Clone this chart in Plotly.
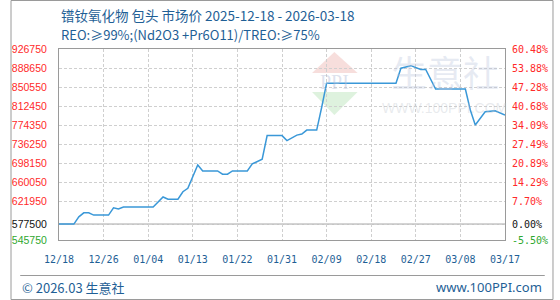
import plotly.graph_objects as go
import pandas as pd

# ---- data ----
dates = [
    "2025-12-18", "2025-12-21", "2025-12-22", "2025-12-23", "2025-12-24", "2025-12-25",
    "2025-12-28", "2025-12-29", "2025-12-30", "2025-12-31", "2026-01-06", "2026-01-08",
    "2026-01-09", "2026-01-11", "2026-01-12", "2026-01-13", "2026-01-15", "2026-01-16",
    "2026-01-19", "2026-01-20", "2026-01-21", "2026-01-22", "2026-01-25", "2026-01-26",
    "2026-01-28", "2026-01-29", "2026-02-01", "2026-02-02", "2026-02-04", "2026-02-05",
    "2026-02-06", "2026-02-08", "2026-02-09", "2026-02-10", "2026-02-24", "2026-02-25",
    "2026-02-27", "2026-03-01", "2026-03-02", "2026-03-03", "2026-03-04", "2026-03-10",
    "2026-03-11", "2026-03-12", "2026-03-14", "2026-03-16", "2026-03-18",
]
prices = [
    577500, 577500, 592000, 600000, 600000, 595500,
    595500, 610000, 607500, 611500, 611500, 631500,
    627000, 627000, 642000, 649000, 695500, 683500,
    683500, 677000, 677000, 683500, 683500, 697500,
    707000, 754000, 754000, 744000, 755000, 757000,
    765000, 765000, 810000, 858500, 858500, 888500,
    893500, 886000, 886000, 865000, 847000, 847000,
    805000, 775000, 801500, 803500, 795000,
]
x_labels = ["12/18", "12/26", "01/04", "01/13", "01/22", "01/31",
            "02/09", "02/18", "02/27", "03/08", "03/17"]
y_ticks = [545750, 577500, 621950, 660050, 698150, 736250,
           774350, 812450, 850550, 888650, 926750]
pct_labels = ["-5.50%", "0.00%", "7.70%", "14.29%", "20.89%", "27.49%",
              "34.09%", "40.68%", "47.28%", "53.88%", "60.48%"]
base_price = 577500
title_text = "镨钕氧化物 包头 市场价 2025-12-18 - 2026-03-18"
subtitle_text = "REO:≥99%;(Nd2O3 +Pr6O11)/TREO:≥75%"

# ---- layout geometry (pixels) ----
W, H = 560, 300
L, R, T, B = 50, 50, 49, 60
PW, PH = W - L - R, H - T - B


def px(x):
    return (x - L) / PW


def py(y):
    return (H - B - y) / PH


RED, GREEN, BLACK = "#ff2a2a", "#2fa82f", "#111111"


def colour_for(v):
    if v > base_price:
        return RED
    if v < base_price:
        return GREEN
    return BLACK


left_text = [f'<span style="color:{colour_for(v)}">{v}</span>' for v in y_ticks]
right_text = [f'<span style="color:{colour_for(v)}">{t}</span>' for v, t in zip(y_ticks, pct_labels)]

x_dates = pd.to_datetime(dates)
start, end = pd.Timestamp("2025-12-18"), pd.Timestamp("2026-03-18")
x_tickvals = pd.date_range(start, end, periods=len(x_labels))

fig = go.Figure()
fig.add_trace(go.Scatter(
    x=x_dates, y=prices, mode="lines",
    line=dict(color="#3a98d8", width=1.5),
    showlegend=False, hoverinfo="skip",
))
# trace to activate the right-hand axis
fig.add_trace(go.Scatter(
    x=x_dates, y=prices, yaxis="y2", mode="lines",
    line=dict(color="rgba(0,0,0,0)", width=0),
    showlegend=False, hoverinfo="skip",
))

grid = "#cfcfcf"
frame = "#9a9a9a"
blue_text = "#1f5f96"

fig.update_layout(
    width=W, height=H,
    margin=dict(l=L, r=R, t=T, b=B, pad=0),
    paper_bgcolor="white", plot_bgcolor="white",
    xaxis=dict(
        type="date", range=[start, end],
        tickmode="array", tickvals=x_tickvals, ticktext=x_labels,
        tickfont=dict(family="DejaVu Sans Mono", size=10, color=blue_text),
        ticks="outside", ticklen=0, ticklabelstandoff=10,
        showgrid=True, gridcolor=grid, griddash="3px,2px", gridwidth=1,
        showline=True, linecolor=frame, linewidth=1, mirror=True,
        zeroline=False, fixedrange=True,
    ),
    yaxis=dict(
        range=[y_ticks[0], y_ticks[-1]],
        tickmode="array", tickvals=y_ticks, ticktext=left_text,
        tickfont=dict(family="Liberation Sans", size=10.5),
        ticks="outside", ticklen=0, ticklabelstandoff=9,
        showgrid=True, gridcolor=grid, griddash="3px,2px", gridwidth=1,
        showline=True, linecolor=frame, linewidth=1, mirror=True,
        zeroline=False, fixedrange=True,
    ),
    yaxis2=dict(
        overlaying="y", side="right",
        range=[y_ticks[0], y_ticks[-1]],
        tickmode="array", tickvals=y_ticks, ticktext=right_text,
        tickfont=dict(family="DejaVu Sans Mono", size=10),
        ticks="outside", ticklen=0, ticklabelstandoff=4,
        showgrid=False, showline=False, zeroline=False, fixedrange=True,
    ),
)

shapes = []
# solid baseline at the base price
shapes.append(dict(type="line", xref="paper", yref="y", x0=0, x1=1,
                   y0=base_price, y1=base_price,
                   line=dict(color=frame, width=1), layer="below"))
# outer frame of the picture
shapes.append(dict(type="rect", xref="paper", yref="paper",
                   x0=px(0.5), x1=px(559.5), y0=py(299.5), y1=py(0.5),
                   line=dict(color=frame, width=1), fillcolor="rgba(0,0,0,0)",
                   layer="above"))
# footer separator
shapes.append(dict(type="line", xref="paper", yref="paper",
                   x0=px(10), x1=px(551), y0=py(275.5), y1=py(275.5),
                   line=dict(color=frame, width=1)))


# watermark logo triangles
def tri(points, fill):
    path = "M " + " L ".join(f"{px(a)},{py(b)}" for a, b in points) + " Z"
    return dict(type="path", xref="paper", yref="paper", path=path,
                fillcolor=fill, line=dict(width=0), layer="below")


shapes.append(tri([(311, 73), (334, 52), (358, 73)], "rgba(240,190,185,0.5)"))
shapes.append(tri([(311, 92), (358, 92), (334, 115)], "rgba(190,230,190,0.5)"))
fig.update_layout(shapes=shapes)

annotations = [
    dict(text=title_text, x=px(50), y=py(15), xref="paper", yref="paper",
         xanchor="left", yanchor="middle", showarrow=False,
         font=dict(family="Noto Sans CJK SC", size=13.5, color=blue_text)),
    dict(text=subtitle_text, x=px(50), y=py(34), xref="paper", yref="paper",
         xanchor="left", yanchor="middle", showarrow=False,
         font=dict(family="Noto Sans CJK SC", size=13, color=blue_text)),
    dict(text="© 2026.03 生意社", x=px(10), y=py(287), xref="paper", yref="paper",
         xanchor="left", yanchor="middle", showarrow=False,
         font=dict(family="Noto Sans CJK SC", size=13, color=blue_text)),
    dict(text="www.100PPI.com", x=px(550), y=py(287), xref="paper", yref="paper",
         xanchor="right", yanchor="middle", showarrow=False,
         font=dict(family="Noto Sans", size=13, color=blue_text)),
    # watermark
    dict(text="PPI", x=px(334), y=py(82), xref="paper", yref="paper",
         xanchor="center", yanchor="middle", showarrow=False,
         font=dict(family="Liberation Serif", size=20, color="rgba(180,190,215,0.45)")),
    dict(text="生意社", x=px(448), y=py(71), xref="paper", yref="paper",
         xanchor="center", yanchor="middle", showarrow=False,
         font=dict(family="Noto Sans CJK SC", size=36, color="rgba(185,195,220,0.35)")),
    dict(text="WWW.100PPI.COM", x=px(448), y=py(108), xref="paper", yref="paper",
         xanchor="center", yanchor="middle", showarrow=False,
         font=dict(family="Liberation Sans", size=14, color="rgba(190,195,205,0.35)")),
]
fig.update_layout(annotations=annotations)

fig.write_html("out.html")
